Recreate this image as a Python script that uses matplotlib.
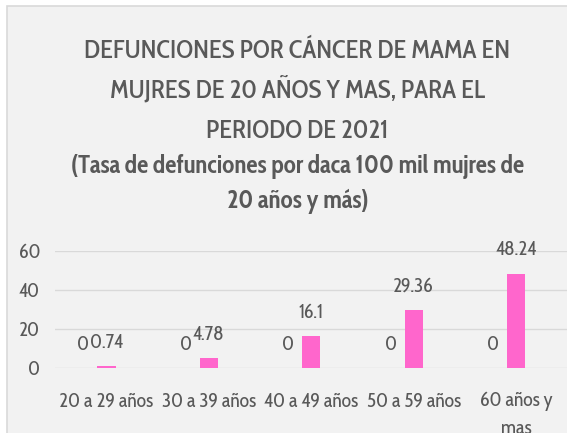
import matplotlib
matplotlib.use("Agg")
import matplotlib.pyplot as plt
from matplotlib import font_manager
from matplotlib.patches import Rectangle
from matplotlib.textpath import TextPath
from matplotlib.font_manager import FontProperties
import numpy as np

# data
categories = ["20 a 29 años", "30 a 39 años", "40 a 49 años", "50 a 59 años", "60 años y\nmas"]
serie_cero = [0, 0, 0, 0, 0]
tasa = [0.74, 4.78, 16.1, 29.36, 48.24]
yticks = [0, 20, 40, 60]

title_lines = ["DEFUNCIONES POR CÁNCER DE MAMA EN",
               "MUJRES DE 20 AÑOS Y MAS, PARA EL",
               "PERIODO DE 2021"]
subtitle_lines = ["(Tasa de defunciones por daca 100 mil mujres de",
                  "20 años y más)"]

names = {f.name for f in font_manager.fontManager.ttflist}
family = "Cabin Condensed" if "Cabin Condensed" in names else "Liberation Sans"
plt.rcParams["font.family"] = [family, "DejaVu Sans"]


def fit_size(text, width_px, weight="normal"):
    # font size (pt) so that text is width_px wide at 100 dpi
    fp = FontProperties(family=family, weight=weight, size=10)
    w = TextPath((0, 0), text, prop=fp).get_extents().width  # in points at size 10
    return 10 * (width_px * 0.72) / w


txt = "#595959"
grid = "#d9d9d9"
pink = "#ff66cc"
W, H = 567, 433

fs = fit_size("20 a 29 años", 93)
fs_title = fit_size(title_lines[0], 423, "medium")
fs_sub = fit_size(subtitle_lines[0], 451, "bold")

fig = plt.figure(figsize=(W / 100, H / 100), dpi=100)
fig.patch.set_facecolor("white")

# chart area (cut off at right and bottom)
fig.patches.append(Rectangle((6.5 / W, -0.1), 1.2, 1 - 6.5 / H + 0.1,
                             transform=fig.transFigure, facecolor="#f2f2f2",
                             edgecolor=grid, linewidth=1.2, zorder=-5))

ax = fig.add_axes([55.3 / W, 1 - 367.7 / H, 512 / W, (367.7 - 250.7) / H])
ax.set_facecolor("none")

x = np.arange(len(categories))
bw = 0.176
ax.bar(x, tasa, width=bw, color=pink, zorder=3)

for xi, v in zip(x, tasa):
    ax.annotate(f"{v:g}", (xi, v), xytext=(0, 17), textcoords="offset points",
                ha="center", va="center", fontsize=fs, color=txt)
for xi, v in zip(x, serie_cero):
    ax.annotate(f"{v:g}", (xi - 0.225, v), xytext=(0, 16), textcoords="offset points",
                ha="center", va="center", fontsize=fs, color=txt)

ax.set_xlim(-0.5, len(categories) - 0.5)
ax.set_ylim(0, 60)
ax.set_yticks(yticks)
ax.set_xticks(x)
ax.set_xticklabels(categories, linespacing=1.5)
ax.tick_params(axis="both", length=0, labelsize=fs, labelcolor=txt)
ax.tick_params(axis="x", pad=17)
ax.tick_params(axis="y", pad=11)
ax.yaxis.grid(True, color=grid, linewidth=1.0, zorder=0)
for s in ax.spines.values():
    s.set_visible(False)

# titles
cx = 297.5 / W
for line, base in zip(title_lines, [58.3, 98.0, 137.5]):
    fig.text(cx, 1 - base / H, line, ha="center", va="baseline",
             fontsize=fs_title, color=txt, fontweight="medium")
for line, base in zip(subtitle_lines, [173.3, 208.3]):
    fig.text(cx, 1 - base / H, line, ha="center", va="baseline",
             fontsize=fs_sub, color=txt, fontweight="bold")

fig.savefig("out.png", dpi=100)
